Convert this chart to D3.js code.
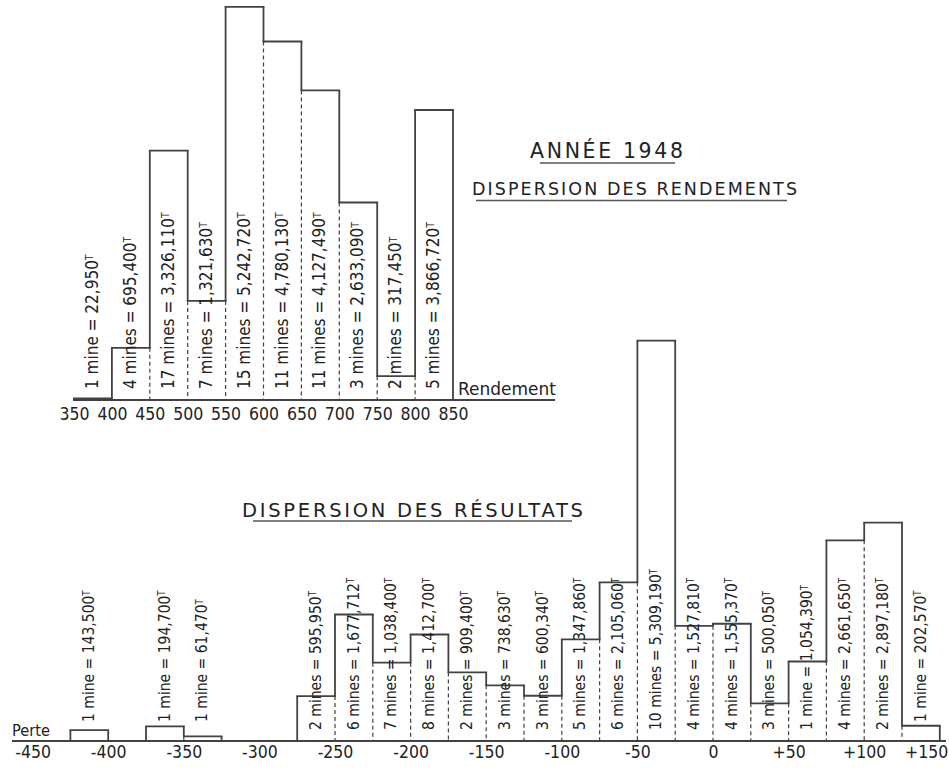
<!DOCTYPE html>
<html>
<head>
<meta charset="utf-8">
<script src="https://cdn.jsdelivr.net/npm/d3@7"></script>
<style>
  html, body { margin: 0; padding: 0; background: #ffffff; }
  svg { display: block; }
</style>
</head>
<body>
<svg id="chart" width="949" height="769"></svg>
<script>
// ---------------- DATA ----------------
// Top histogram: "Dispersion des rendements" (class width 50)
const topStarts = [350, 400, 450, 500, 550, 600, 650, 700, 750, 800];
const topMines  = [1, 4, 17, 7, 15, 11, 11, 3, 2, 5];
const topTonnes = [22950, 695400, 3326110, 1321630, 5242720, 4780130, 4127490, 2633090, 317450, 3866720];
const topTicks  = [350, 400, 450, 500, 550, 600, 650, 700, 750, 800, 850];

// Bottom histogram: "Dispersion des résultats" (class width 25)
const botStarts = [-425, -375, -350, -275, -250, -225, -200, -175, -150, -125, -100, -75, -50, -25, 0, 25, 50, 75, 100, 125];
const botMines  = [1, 1, 1, 2, 6, 7, 8, 2, 3, 3, 5, 6, 10, 4, 4, 3, 1, 4, 2, 1];
const botTonnes = [143500, 194700, 61470, 595950, 1677712, 1038400, 1412700, 909400, 738630, 600340, 1347860, 2105060, 5309190, 1527810, 1555370, 500050, 1054390, 2661650, 2897180, 202570];
const botTicks  = [-450, -400, -350, -300, -250, -200, -150, -100, -50, 0, 50, 100, 150];

const titleMain = "ANNÉE 1948";
const titleTop  = "DISPERSION DES RENDEMENTS";
const titleBot  = "DISPERSION DES RÉSULTATS";
const axisNameTop = "Rendement";
const axisNameBot = "Perte";

// ---------------- DRAWING ----------------
const svg = d3.select("#chart");
const INK = "#424242";
const TEXT = "#222222";
const FONT = "'DejaVu Sans Condensed', 'DejaVu Sans', sans-serif";
const fmt = d3.format(",");

function histogram(cfg) {
  const { starts, width, mines, tonnes, x, y, axisY, labelSize, startGap, smallGap } = cfg;
  const g = svg.append("g");
  const bins = starts.map((s, i) => ({ x0: s, x1: s + width, m: mines[i], t: tonnes[i] }));
  const byStart = new Map(bins.map(b => [b.x0, b]));

  // top edges
  g.selectAll("line.top").data(bins).join("line")
    .attr("x1", d => x(d.x0)).attr("x2", d => x(d.x1))
    .attr("y1", d => y(d.t)).attr("y2", d => y(d.t))
    .attr("stroke", INK).attr("stroke-width", 1.8).attr("stroke-linecap", "square");

  // vertical boundaries
  const edges = new Set();
  bins.forEach(b => { edges.add(b.x0); edges.add(b.x1); });
  const edgeData = Array.from(edges).sort((a, b) => a - b).map(e => {
    const L = bins.find(b => b.x1 === e);
    const R = byStart.get(e);
    const yL = L ? y(L.t) : axisY;
    const yR = R ? y(R.t) : axisY;
    return { e, hi: Math.min(yL, yR), lo: Math.max(yL, yR), shared: !!(L && R) };
  });
  g.selectAll("line.solid").data(edgeData).join("line")
    .attr("x1", d => x(d.e)).attr("x2", d => x(d.e))
    .attr("y1", d => d.hi).attr("y2", d => d.lo)
    .attr("stroke", INK).attr("stroke-width", 1.8);
  g.selectAll("line.dash").data(edgeData.filter(d => d.shared)).join("line")
    .attr("x1", d => x(d.e)).attr("x2", d => x(d.e))
    .attr("y1", d => d.lo).attr("y2", axisY)
    .attr("stroke", INK).attr("stroke-width", 1.2).attr("stroke-dasharray", "4,3");

  // rotated labels (reading bottom to top, starting just above the axis)
  const lab = g.selectAll("text.lab").data(bins).join("text")
    .attr("transform", d => {
      const cx = (x(d.x0) + x(d.x1)) / 2 + labelSize * 0.3;
      const small = (axisY - y(d.t)) < 20;
      const sy = axisY - (small ? smallGap : startGap);
      return `translate(${cx},${sy}) rotate(-90)`;
    })
    .attr("font-family", FONT).attr("font-size", labelSize).attr("fill", TEXT);
  lab.append("tspan").text(d => `${d.m} ${d.m === 1 ? "mine" : "mines"} = ${fmt(d.t)}`);
  lab.append("tspan").attr("dy", "-0.45em").attr("font-size", labelSize * 0.62).text("T");
  return g;
}

// Scales
const xTop = d3.scaleLinear().domain([350, 850]).range([74, 453]);
const yTop = d3.scaleLinear().domain([0, 5e6]).range([400, 400 - 375]);
const xBot = d3.scaleLinear().domain([-450, 150]).range([32.6, 939.8]);
const yBot = d3.scaleLinear().domain([0, 5e6]).range([741, 741 - 377]);

// Axes lines
svg.append("line").attr("x1", 73).attr("x2", 555).attr("y1", 400).attr("y2", 400)
  .attr("stroke", INK).attr("stroke-width", 1.8);
svg.append("line").attr("x1", 12).attr("x2", 946).attr("y1", 741).attr("y2", 741)
  .attr("stroke", INK).attr("stroke-width", 1.8);

histogram({ starts: topStarts, width: 50, mines: topMines, tonnes: topTonnes,
  x: xTop, y: yTop, axisY: 400, labelSize: 17, startGap: 11, smallGap: 11 });
histogram({ starts: botStarts, width: 25, mines: botMines, tonnes: botTonnes,
  x: xBot, y: yBot, axisY: 741, labelSize: 15.5, startGap: 11, smallGap: 19 });

// Tick labels via d3 axes
function styleAxis(g) {
  g.select(".domain").remove();
  g.selectAll("text").attr("font-family", FONT).attr("font-size", 17.5).attr("fill", TEXT);
}
svg.append("g").attr("transform", "translate(0,400)")
  .call(d3.axisBottom(xTop).tickValues(topTicks).tickSize(0).tickPadding(8).tickFormat(d => String(d)))
  .call(styleAxis);
const gBot = svg.append("g").attr("transform", "translate(0,741)")
  .call(d3.axisBottom(xBot).tickValues(botTicks).tickSize(0).tickPadding(5)
    .tickFormat(d => d > 0 ? "+" + d : d < 0 ? "-" + Math.abs(d) : "0"))
  .call(styleAxis);
gBot.selectAll(".tick").filter(d => d === botTicks[botTicks.length - 1]).select("text")
  .attr("text-anchor", "end").attr("dx", 8);

// Axis names
svg.append("text").attr("x", 458).attr("y", 395).attr("font-family", "'DejaVu Sans', sans-serif")
  .attr("font-size", 17).attr("fill", TEXT).attr("textLength", 98).attr("lengthAdjust", "spacingAndGlyphs")
  .text(axisNameTop);
svg.append("text").attr("x", 12).attr("y", 736).attr("font-family", "'DejaVu Sans', sans-serif")
  .attr("font-size", 16.5).attr("fill", TEXT).attr("textLength", 38).attr("lengthAdjust", "spacingAndGlyphs")
  .text(axisNameBot);

// Titles with underlines
function title(txt, x, yb, size, len, ux1, ux2, uy) {
  svg.append("text").attr("x", x).attr("y", yb)
    .attr("font-family", "'DejaVu Sans', sans-serif").attr("font-size", size).attr("fill", TEXT)
    .attr("textLength", len).attr("lengthAdjust", "spacing").text(txt);
  svg.append("line").attr("x1", ux1).attr("x2", ux2).attr("y1", uy).attr("y2", uy)
    .attr("stroke", "#555").attr("stroke-width", 1.6);
}
title(titleMain, 530, 158, 20.5, 153, 540, 675, 163);
title(titleTop, 472, 195, 17.5, 325, 476, 787, 200.5);
title(titleBot, 242, 516.5, 19.5, 341, 253, 572, 521);
</script>
</body>
</html>
